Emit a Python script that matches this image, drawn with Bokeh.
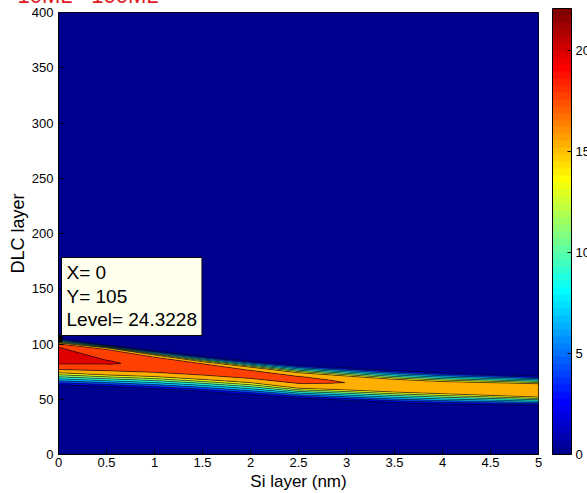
import numpy as np
from bokeh.plotting import figure
from bokeh.models import ColorBar, LinearColorMapper, FixedTicker, Label, Range1d, Title
from bokeh.embed import file_html
from bokeh.resources import INLINE

# ---------------- data ----------------
TITLE = "10ML - 100ML"
X_LABEL = "Si layer (nm)"
Y_LABEL = "DLC layer"

# x columns of the sampled field (Si layer, nm)
SI_LAYER = [0, 0.5, 1, 1.5, 2, 2.5, 3, 3.5, 4, 4.5, 5]

# for each Si column: DLC-layer positions of the samples (bottom -> top)
DLC_PROFILE = [
    [0, 63.0, 74.0, 77.0, 82.0, 88.0, 97.0, 100.0, 101.0, 105.0, 400],
    [0, 61.5, 72.0, 76.0, 82.0, 83.5, 85.0, 95.0, 96.5, 99.0, 400],
    [0, 59.5, 70.5, 74.5, 78.0, 80.0, 83.0, 88.0, 90.0, 94.0, 400],
    [0, 57.0, 68.0, 72.0, 75.0, 77.0, 79.0, 82.0, 84.0, 89.0, 400],
    [0, 54.0, 65.0, 69.0, 71.0, 72.5, 74.0, 76.0, 79.0, 84.5, 400],
    [0, 51.0, 60.0, 64.5, 66.5, 67.5, 68.5, 70.5, 74.0, 81.0, 400],
    [0, 49.0, 58.5, 62.0, 63.5, 65.0, 66.5, 68.0, 71.0, 78.5, 400],
    [0, 47.0, 56.5, 59.5, 61.0, 62.0, 63.0, 64.5, 68.0, 76.0, 400],
    [0, 45.5, 55.0, 57.5, 59.0, 60.0, 61.0, 62.5, 66.0, 74.0, 400],
    [0, 45.0, 53.5, 56.0, 57.5, 58.5, 59.5, 61.0, 65.0, 72.5, 400],
    [0, 44.5, 52.0, 54.5, 56.0, 57.5, 59.0, 61.0, 64.0, 71.0, 400],
]
# matching field levels at those samples
LEVEL_PROFILE = [
    [0, 2, 15.5, 17.75, 19.95, 21.2, 19.95, 17.75, 15.5, 2, 0],
    [0, 2, 15.5, 17.75, 19.95, 20.1, 19.95, 17.75, 15.5, 2, 0],
    [0, 2, 15.5, 17.75, 19.2, 19.4, 19.2, 17.75, 15.5, 2, 0],
    [0, 2, 15.5, 17.75, 18.8, 19.0, 18.8, 17.75, 15.5, 2, 0],
    [0, 2, 15.5, 17.75, 18.4, 18.6, 18.4, 17.75, 15.5, 2, 0],
    [0, 2, 15.5, 17.75, 18.05, 18.2, 18.05, 17.75, 15.5, 2, 0],
    [0, 2, 15.5, 17.2, 17.5, 17.66, 17.5, 17.2, 15.5, 2, 0],
    [0, 2, 15.5, 16.8, 17.1, 17.3, 17.1, 16.8, 15.5, 2, 0],
    [0, 2, 15.5, 16.7, 17.0, 17.1, 17.0, 16.7, 15.5, 2, 0],
    [0, 2, 15.5, 16.6, 16.9, 17.0, 16.9, 16.6, 15.5, 2, 0],
    [0, 2, 15.5, 16.5, 16.8, 16.9, 16.8, 16.5, 15.5, 2, 0],
]

C_MIN = 0.0
C_MAX = 22.1
N_LEVELS = 11

X_TICKS = [0, 0.5, 1, 1.5, 2, 2.5, 3, 3.5, 4, 4.5, 5]
X_TICK_LABELS = ["0", "0.5", "1", "1.5", "2", "2.5", "3", "3.5", "4", "4.5", "5"]
Y_TICKS = [0, 50, 100, 150, 200, 250, 300, 350, 400]
CB_TICKS = [0, 5, 10, 15, 20]

TIP_X = 0
TIP_Y = 105
TIP_LEVEL = 24.3228

FONT = "Liberation Sans"

# ---------------- layout (pixels) ----------------
SHIFT_UP = 26          # page is shifted up so the title is cut by the window top
TOP_BORDER = 38        # frame top in canvas px (12 px in the window)
AXES_H = 446
X_MIN, X_MAX = X_TICKS[0], X_TICKS[-1]
Y_MIN, Y_MAX = Y_TICKS[0], Y_TICKS[-1]


# ---------------- helpers ----------------
def jet_row(row, m=64):
    t = row / m
    r = min(max(1.5 - abs(4 * t - 3), 0), 1)
    g = min(max(1.5 - abs(4 * t - 2), 0), 1)
    b = min(max(1.5 - abs(4 * t - 1), 0), 1)
    return "#%02x%02x%02x" % (round(r * 255), round(g * 255), round(b * 255))


def jet_for_value(v, m=64):
    row = int(np.floor((v - C_MIN) / (C_MAX - C_MIN) * m)) + 1
    row = max(1, min(m, row))
    return jet_row(row, m)


JET64 = [jet_row(i) for i in range(1, 65)]

n_rows = len(DLC_PROFILE[0])
X2 = np.array([SI_LAYER] * n_rows, dtype=float)
Y2 = np.array(DLC_PROFILE, dtype=float).T
Z2 = np.array(LEVEL_PROFILE, dtype=float).T

levels = list(np.linspace(C_MIN, C_MAX, N_LEVELS))
fills = [jet_for_value(v) for v in levels[:-1]]

# ---------------- figure ----------------
p = figure(width=587, height=493 + SHIFT_UP, x_range=Range1d(X_MIN, X_MAX), y_range=Range1d(Y_MIN, Y_MAX),
           output_backend="svg", toolbar_location=None,
           min_border_left=58, min_border_right=49, min_border_top=TOP_BORDER, min_border_bottom=35)
p.margin = (-SHIFT_UP, 0, 0, 0)
p.background_fill_color = JET64[0]
p.border_fill_color = "white"
p.outline_line_color = "black"
p.outline_line_width = 1
p.grid.visible = False

p.title = Title(text=TITLE, align="left", offset=17 - 58, standoff=10,
                text_color="#E0181E", text_font=FONT, text_font_size="22px",
                text_font_style="normal")

p.contour(X2, Y2, Z2, levels, fill_color=fills, line_color="black",
          line_width=0.6, line_alpha=[0.0] + [0.9] * (N_LEVELS - 1))

# axes
for ax in (p.xaxis[0], p.yaxis[0]):
    ax.axis_line_color = "black"
    ax.major_tick_in = 5
    ax.major_tick_out = 0
    ax.minor_tick_line_color = None
    ax.major_tick_line_color = "black"
    ax.major_label_text_font = FONT
    ax.major_label_text_font_size = "13px"
    ax.major_label_text_color = "black"
    ax.axis_label_text_font = FONT
    ax.axis_label_text_font_style = "normal"
    ax.axis_label_text_color = "black"

p.xaxis[0].ticker = FixedTicker(ticks=X_TICKS)
p.xaxis[0].major_label_overrides = {t: l for t, l in zip(X_TICKS, X_TICK_LABELS)}
p.xaxis[0].axis_label = X_LABEL
p.xaxis[0].axis_label_text_font_size = "17px"
p.xaxis[0].major_label_standoff = 3
p.xaxis[0].axis_label_standoff = 2

p.yaxis[0].ticker = FixedTicker(ticks=Y_TICKS)
p.yaxis[0].axis_label = Y_LABEL
p.yaxis[0].axis_label_text_font_size = "18px"
p.yaxis[0].major_label_standoff = 5
p.yaxis[0].axis_label_standoff = 1

# colour bar
mapper = LinearColorMapper(palette=JET64, low=C_MIN, high=C_MAX)
cb = ColorBar(color_mapper=mapper, location=(494, 0), width=19, height=AXES_H,
              padding=0, margin=0, orientation="vertical",
              ticker=FixedTicker(ticks=CB_TICKS),
              major_tick_in=4, major_tick_out=0, major_tick_line_color="black",
              minor_tick_line_color=None,
              bar_line_color="black", bar_line_width=1,
              major_label_text_font=FONT, major_label_text_font_size="13px",
              major_label_text_color="black", label_standoff=4,
              background_fill_alpha=0, border_line_color=None)
p.add_layout(cb)

# data tip
p.scatter([TIP_X], [TIP_Y], marker="square", size=7, color="black")
p.add_layout(Label(x=TIP_X, y=TIP_Y, x_offset=3, y_offset=3,
                   text=f"X= {TIP_X}\nY= {TIP_Y}\nLevel= {TIP_LEVEL}",
                   text_font=FONT, text_font_size="19px", text_color="black",
                   text_align="left", text_baseline="bottom", text_line_height=1.12,
                   anchor="bottom_left", padding=5,
                   background_fill_color="#FFFFED", border_line_color="black",
                   border_line_width=1))

open("out.html", "w").write(file_html(p, INLINE))
